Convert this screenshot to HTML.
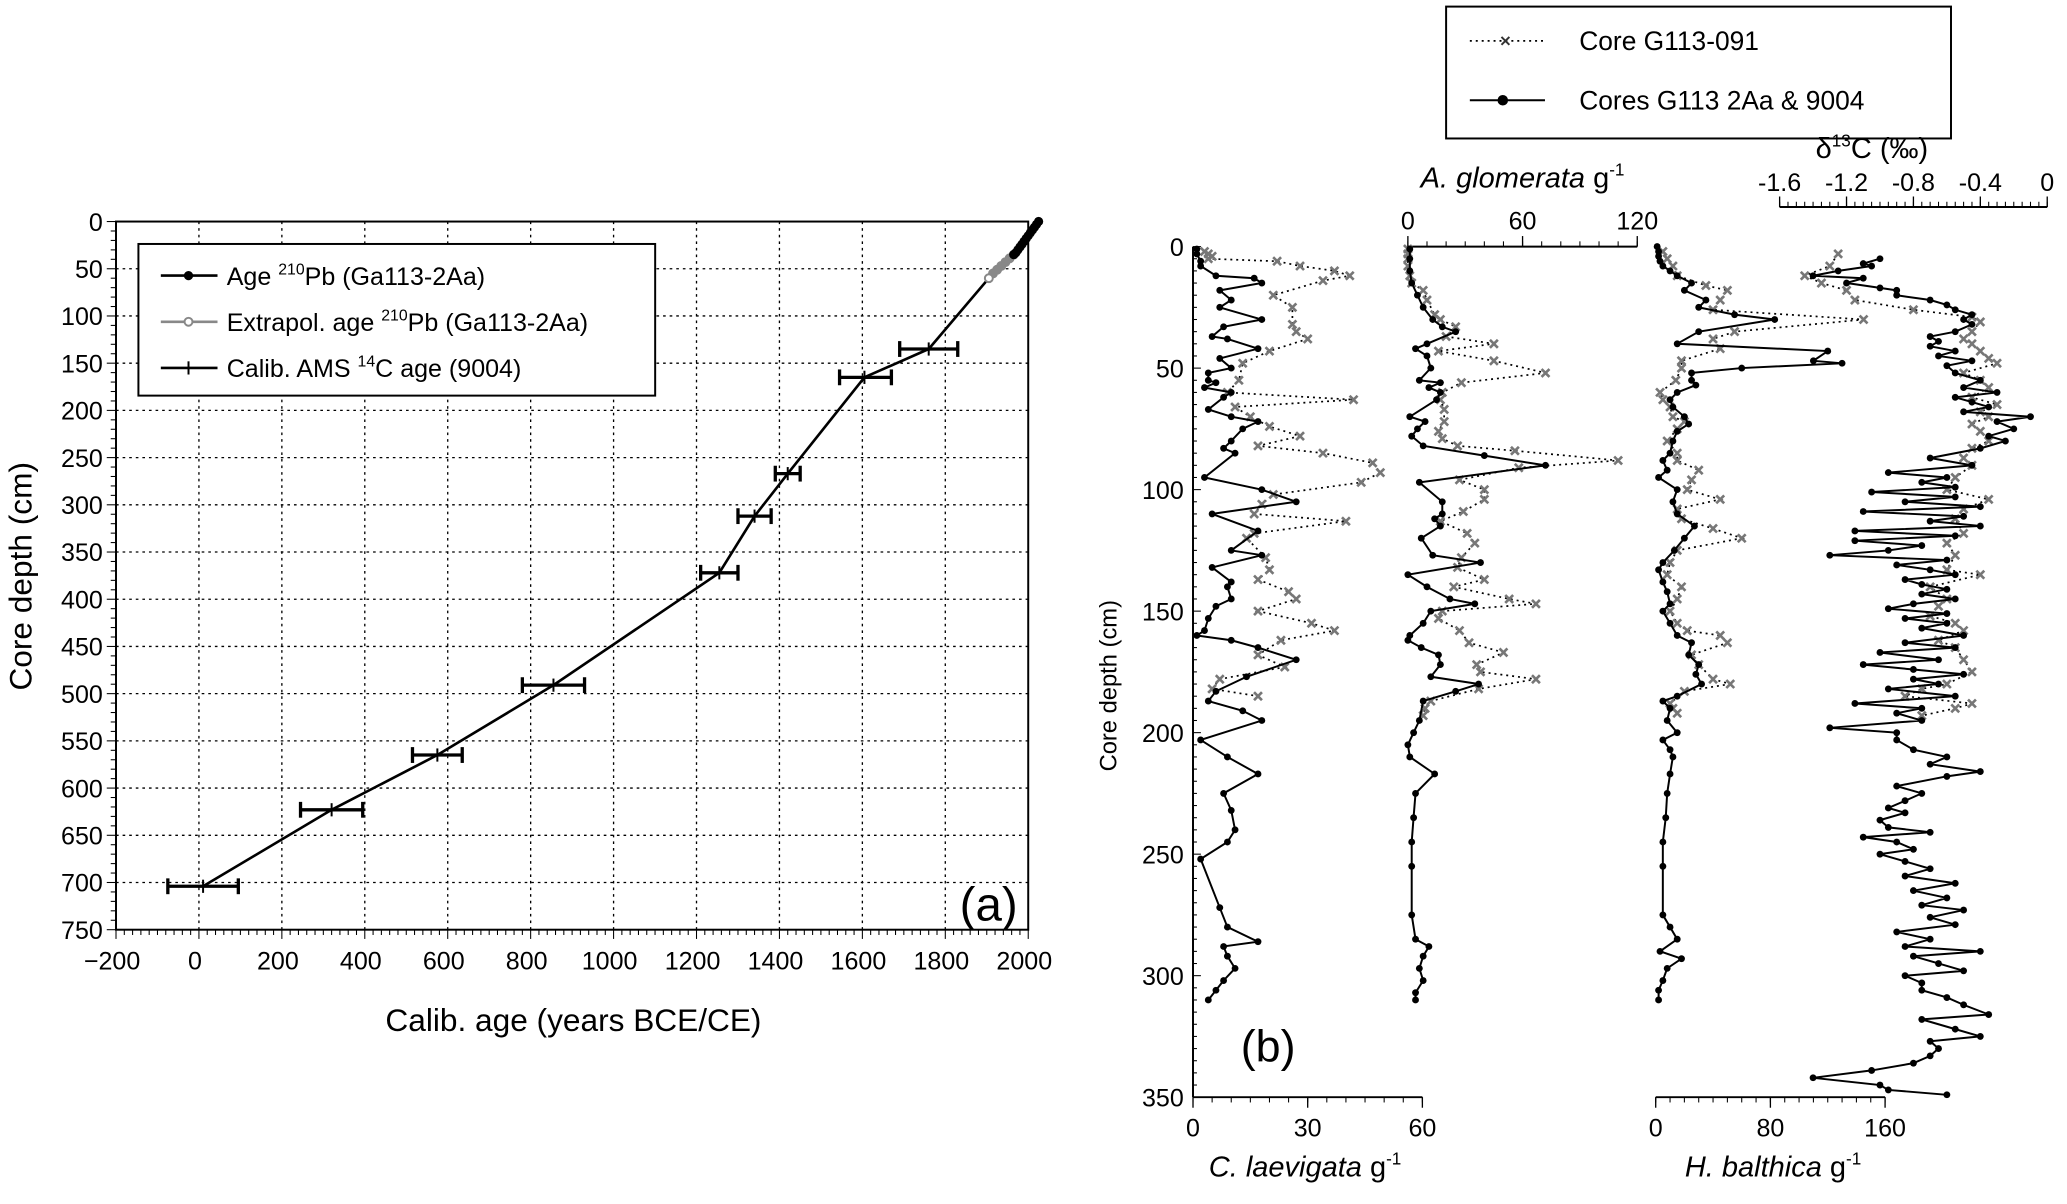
<!DOCTYPE html>
<html><head><meta charset="utf-8"><style>
html,body{margin:0;padding:0;background:#fff}
svg{display:block;font-family:"Liberation Sans",Arial,sans-serif}
</style></head><body>
<svg id="fig" width="2067" height="1204" viewBox="0 0 1568 913" preserveAspectRatio="none" xmlns="http://www.w3.org/2000/svg">
<rect x="0" y="0" width="1568" height="913" fill="#fff"/>
<g id="pa"></g>
<g id="pb"></g>
</svg>
<script>
// ---------- Panel (a) data ----------
const ageAms = [1760,1605,1420,1340,1255,855,575,320,10];
const depthAms = [135,165,267,312,372,491,565,623,704];
const errLo = [1690,1545,1390,1300,1210,780,515,245,-75];
const errHi = [1830,1670,1450,1380,1300,930,635,395,95];
const agePb = [2025,2020,2015,2010,2005,2000,1995,1990,1985,1980,1975,1970,1965];
const depthPb = [0,3,6,9,12,15,18,21,24,27,30,33,35];
const ageExt = [1965,1955,1945,1935,1925,1915,1905];
const depthExt = [35,39,43,47,51,55,60];
const xTicksA = [-200,0,200,400,600,800,1000,1200,1400,1600,1800,2000];
const yTicksA = [0,50,100,150,200,250,300,350,400,450,500,550,600,650,700,750];

// ---------- Panel (b) data ----------
const clD = [1,3,6,8,12,13,15,18,22,25,30,33,37,38,42,46,50,52,55,56,58,60,62,67,70,72,75,80,83,85,95,100,105,110,117,125,127,132,138,140,145,148,153,158,160,162,165,170,177,183,187,191,195,203,210,217,225,232,240,245,252,272,280,286,288,292,297,302,306,310];
const clV = [1,1,2,2,6,16,18,7,10,7,18,8,5,9,17,7,10,4,4,6,3,10,8,4,10,17,13,10,8,11,3,18,27,5,17,10,18,5,10,9,10,6,4,3,1,10,17,27,14,6,4,13,18,2,9,17,8,10,11,9,2,7,9,17,8,9,11,8,6,4];
const clGD = [2,3,4,5,6,8,10,12,14,20,25,32,35,38,43,48,55,60,63,66,70,74,78,82,85,89,93,97,102,106,110,113,118,120,128,133,137,142,145,150,155,158,162,168,173,178,182,185];
const clGV = [3,4,5,4,22,28,37,41,34,21,26,26,27,30,20,13,12,9,42,11,15,20,28,17,34,47,49,44,21,18,16,40,16,14,19,20,17,25,27,17,31,37,23,17,24,7,5,17];
const agD = [1,5,10,15,20,25,30,33,35,40,42,45,50,55,56,58,60,63,70,72,75,78,82,86,90,97,105,110,112,115,120,127,130,135,140,145,147,150,155,160,162,165,168,172,177,180,183,187,195,200,205,210,217,225,235,245,255,275,285,288,292,297,302,307,310];
const agV = [1,1,1,2,5,8,13,18,25,10,4,10,12,6,17,11,17,15,1,9,5,2,8,40,72,6,18,18,14,17,7,13,38,0,10,22,35,12,8,1,0,7,16,17,12,37,25,8,6,3,0,1,14,4,3,2,2,2,4,11,8,6,8,4,4];
const agGD = [1,3,5,8,12,15,18,22,28,30,33,37,40,43,47,52,56,60,63,67,72,76,79,82,84,88,91,96,100,104,109,113,118,122,128,132,137,140,145,147,150,153,158,163,167,172,175,178,182,187,190,193];
const agGV = [0,0,0,0,1,2,8,10,14,17,25,20,45,16,45,72,28,18,17,19,19,16,18,26,56,110,58,27,40,40,29,17,31,35,28,26,40,24,53,67,18,16,27,32,50,36,38,67,37,12,9,8];
const hbD = [0,2,4,6,8,10,12,15,18,22,25,28,30,35,40,43,47,48,50,52,55,57,60,63,66,70,73,76,80,85,88,92,95,100,105,110,115,120,125,130,133,138,142,147,150,155,160,163,168,172,176,180,185,187,190,195,200,203,207,210,217,225,235,245,255,275,280,285,290,293,297,302,306,310];
const hbV = [1,2,2,3,5,10,15,25,20,35,30,55,83,30,15,120,110,130,60,25,25,28,15,10,12,20,23,15,12,10,5,8,2,15,12,15,27,20,13,5,2,5,8,10,5,10,15,25,23,30,28,32,15,5,10,8,15,5,10,12,10,8,7,5,5,5,10,15,3,18,8,5,2,2];
const hbGD = [2,5,8,12,16,18,22,26,30,35,38,42,47,50,55,60,63,66,70,72,75,80,85,88,92,96,100,104,108,112,116,120,125,130,135,140,145,150,155,158,160,163,168,172,178,180,183,188,190,192];
const hbGV = [5,8,12,15,35,50,45,40,145,55,40,45,18,18,14,3,5,10,12,20,15,8,15,15,30,25,22,45,15,18,40,60,15,10,8,18,15,10,15,22,45,50,25,30,40,52,20,10,12,15];
const dcD = [5,7,8,10,12,13,15,17,18,20,22,24,26,28,30,32,35,37,39,41,43,45,47,49,52,55,58,60,62,64,66,68,70,72,75,78,80,83,87,90,93,95,97,99,101,103,105,107,109,111,113,115,117,119,121,123,125,127,129,131,133,135,137,139,141,143,145,147,149,151,153,155,157,160,163,165,167,170,172,174,176,178,180,182,185,188,190,192,195,198,200,203,207,210,213,216,218,222,225,228,231,233,236,239,241,243,245,248,250,253,256,259,262,265,268,271,273,276,279,282,285,288,290,292,295,298,300,303,306,309,312,316,318,322,325,327,330,333,336,339,342,345,347,349];
const dcV = [-1.0,-1.1,-1.05,-1.25,-1.4,-1.1,-1.2,-1.0,-0.9,-0.9,-0.7,-0.6,-0.55,-0.45,-0.5,-0.45,-0.55,-0.7,-0.65,-0.7,-0.55,-0.65,-0.45,-0.6,-0.55,-0.4,-0.5,-0.3,-0.55,-0.45,-0.35,-0.5,-0.1,-0.3,-0.2,-0.35,-0.25,-0.4,-0.7,-0.45,-0.95,-0.6,-0.75,-0.55,-1.05,-0.55,-0.85,-0.4,-1.1,-0.5,-0.7,-0.4,-1.15,-0.55,-1.15,-0.75,-0.95,-1.3,-0.6,-0.9,-0.7,-0.55,-0.85,-0.75,-0.6,-0.75,-0.55,-0.8,-0.95,-0.6,-0.85,-0.6,-0.75,-0.5,-0.85,-0.55,-1.0,-0.65,-1.1,-0.8,-0.5,-0.8,-0.65,-0.95,-0.55,-1.15,-0.75,-0.9,-0.75,-1.3,-0.9,-0.9,-0.8,-0.6,-0.7,-0.4,-0.6,-0.9,-0.75,-0.85,-0.95,-0.85,-1.0,-0.95,-0.7,-1.1,-0.9,-0.8,-1.0,-0.85,-0.7,-0.85,-0.55,-0.8,-0.6,-0.75,-0.5,-0.7,-0.55,-0.9,-0.7,-0.85,-0.4,-0.8,-0.65,-0.5,-0.85,-0.75,-0.75,-0.6,-0.5,-0.35,-0.75,-0.55,-0.4,-0.7,-0.65,-0.7,-0.8,-1.05,-1.4,-1.0,-0.95,-0.6];
const dcGD = [3,8,12,15,18,22,26,29,31,35,38,40,43,46,48,52,55,58,62,65,68,70,73,76,80,83,87,90,95,100,104,108,112,118,122,127,133,135,140,145,148,152,155,158,162,165,170,175,180,182,185,188,190,193];
const dcGV = [-1.25,-1.3,-1.45,-1.35,-1.2,-1.15,-0.8,-0.45,-0.4,-0.45,-0.5,-0.45,-0.4,-0.35,-0.3,-0.5,-0.4,-0.35,-0.45,-0.3,-0.4,-0.35,-0.45,-0.4,-0.35,-0.45,-0.5,-0.45,-0.55,-0.6,-0.35,-0.5,-0.55,-0.5,-0.6,-0.55,-0.6,-0.4,-0.7,-0.6,-0.65,-0.7,-0.55,-0.5,-0.65,-0.55,-0.5,-0.45,-0.6,-0.75,-0.85,-0.45,-0.55,-0.75];

const NS="http://www.w3.org/2000/svg";
function mk(parent,tag,attrs){const e=document.createElementNS(NS,tag);for(const k in attrs)e.setAttribute(k,attrs[k]);parent.appendChild(e);return e;}
function txt(parent,x,y,s,size,anchor,extra){const t=mk(parent,'text',Object.assign({x:x,y:y,'font-size':size,'text-anchor':anchor||'middle',fill:'#000'},extra||{}));t.textContent=s;return t;}

// ===== Panel A =====
const pa=document.getElementById('pa');
const AL=88,AR=780,AT=168,AB=705;
const ax=v=>AL+(v+200)/2200*(AR-AL);
const ay=d=>AT+d/750*(AB-AT);
xTicksA.forEach(v=>{ if(v>-200&&v<2000){const g=mk(pa,'line',{x1:ax(v),x2:ax(v),y1:AT,y2:AB,stroke:'#000','stroke-width':1,'stroke-dasharray':'2,3'});}});
yTicksA.forEach(v=>{ if(v>0&&v<750){const g=mk(pa,'line',{x1:AL,x2:AR,y1:ay(v),y2:ay(v),stroke:'#000','stroke-width':1,'stroke-dasharray':'2,3'});}});
const frameA=mk(pa,'rect',{x:AL,y:AT,width:AR-AL,height:AB-AT,fill:'none',stroke:'#000','stroke-width':1.5});


for(let v=-200;v<=2000;v+=20){mk(pa,'line',{x1:ax(v),x2:ax(v),y1:AB,y2:AB+(v%200===0?7:4),stroke:'#000','stroke-width':0.8});}
for(let d=0;d<=750;d+=10){mk(pa,'line',{x1:AL-(d%50===0?7:4),x2:AL,y1:ay(d),y2:ay(d),stroke:'#000','stroke-width':0.8});}
xTicksA.forEach(v=>{const t=txt(pa,ax(v)-3,AB+30,(v<0?'\u2212':'')+Math.abs(v),19);});
yTicksA.forEach(v=>{const t=txt(pa,AL-10,ay(v)+7,String(v),19,'end');});
const ytA=txt(pa,0,0,'Core depth (cm)',24,'middle',{transform:'translate(24,437) rotate(-90)'});


const xtA=txt(pa,435,782,'Calib. age (years BCE/CE)',24);


let pts=[[ageExt[ageExt.length-1],depthExt[depthExt.length-1]]];
ageAms.forEach((a,i)=>pts.push([a,depthAms[i]]));
const ml=mk(pa,'polyline',{points:pts.map(p=>ax(p[0])+','+ay(p[1])).join(' '),fill:'none',stroke:'#000','stroke-width':2});


ageAms.forEach((a,i)=>{const y=ay(depthAms[i]);const g=mk(pa,'g',{});


mk(g,'line',{x1:ax(errLo[i]),x2:ax(errHi[i]),y1:y,y2:y,stroke:'#000','stroke-width':2.5});
mk(g,'line',{x1:ax(errLo[i]),x2:ax(errLo[i]),y1:y-6,y2:y+6,stroke:'#000','stroke-width':2.5});
mk(g,'line',{x1:ax(errHi[i]),x2:ax(errHi[i]),y1:y-6,y2:y+6,stroke:'#000','stroke-width':2.5});
mk(g,'line',{x1:ax(a),x2:ax(a),y1:y-5,y2:y+5,stroke:'#000','stroke-width':1.5});});
const ext=mk(pa,'polyline',{points:ageExt.map((a,i)=>ax(a)+','+ay(depthExt[i])).join(' '),fill:'none',stroke:'#888','stroke-width':4});


ageExt.forEach((a,i)=>{const c=mk(pa,'circle',{cx:ax(a),cy:ay(depthExt[i]),r:3,fill:i===ageExt.length-1?'#fff':'#888',stroke:'#888','stroke-width':1.5});});
const pbl=mk(pa,'polyline',{points:agePb.map((a,i)=>ax(a)+','+ay(depthPb[i])).join(' '),fill:'none',stroke:'#000','stroke-width':4});


agePb.forEach((a,i)=>{const c=mk(pa,'circle',{cx:ax(a),cy:ay(depthPb[i]),r:3.5,fill:'#000'});});
const lgA=mk(pa,'g',{});


mk(lgA,'rect',{x:105,y:185,width:392,height:115,fill:'#fff',stroke:'#000','stroke-width':1.5});
mk(lgA,'line',{x1:122,x2:165,y1:209,y2:209,stroke:'#000','stroke-width':2});mk(lgA,'circle',{cx:143,cy:209,r:3.5,fill:'#000'});
const la1=txt(lgA,172,216,'',19,'start');la1.innerHTML='Age <tspan font-size="12" dy="-8">210</tspan><tspan dy="8">Pb (Ga113-2Aa)</tspan>';


mk(lgA,'line',{x1:122,x2:165,y1:244,y2:244,stroke:'#888','stroke-width':2});mk(lgA,'circle',{cx:143,cy:244,r:3,fill:'#fff',stroke:'#888','stroke-width':1.5});
const la2=txt(lgA,172,251,'',19,'start');la2.innerHTML='Extrapol. age <tspan font-size="12" dy="-8">210</tspan><tspan dy="8">Pb (Ga113-2Aa)</tspan>';


mk(lgA,'line',{x1:122,x2:165,y1:279,y2:279,stroke:'#000','stroke-width':2});mk(lgA,'line',{x1:143,x2:143,y1:274,y2:284,stroke:'#000','stroke-width':1.5});
const la3=txt(lgA,172,286,'',19,'start');la3.innerHTML='Calib. AMS <tspan font-size="12" dy="-8">14</tspan><tspan dy="8">C age (9004)</tspan>';


const lblA=txt(pa,750,698,'(a)',36);



// ===== Panel B =====
const pb=document.getElementById('pb');
const BT=187,BB=832;
const by=d=>BT+d/350*(BB-BT);
const clx=v=>905+v*(1079-905)/60;
const agx=v=>1068+v*(1242-1068)/120;
const hbx=v=>1256+v*(1430-1256)/160;
const dcx=v=>1553+v*(1553-1350)/1.6;

// legend b (drawn first so titles stay on top)
const lgB=mk(pb,'g',{});


mk(lgB,'rect',{x:1097,y:5,width:383,height:100,fill:'#fff',stroke:'#000','stroke-width':1.5});
mk(lgB,'line',{x1:1115,x2:1172,y1:31,y2:31,stroke:'#000','stroke-width':1.3,'stroke-dasharray':'1.5,3'});
mk(lgB,'path',{d:'M1139,28L1145,34M1139,34L1145,28',stroke:'#333','stroke-width':1.5});
const lb1=txt(lgB,1198,38,'Core G113-091',20,'start');


mk(lgB,'line',{x1:1115,x2:1172,y1:76,y2:76,stroke:'#000','stroke-width':1.5});
mk(lgB,'circle',{cx:1140,cy:76,r:4,fill:'#000'});
const lb2=txt(lgB,1198,83,'Cores G113 2Aa & 9004',20,'start');



const dAx=mk(pb,'line',{x1:905,x2:905,y1:BT,y2:BB,stroke:'#000','stroke-width':1.5});


for(let d=0;d<=350;d+=5){mk(pb,'line',{x1:905,x2:905+(d%50===0?6:3),y1:by(d),y2:by(d),stroke:'#000','stroke-width':0.8});}
[0,50,100,150,200,250,300,350].forEach(d=>{const t=txt(pb,898,by(d)+7,String(d),19,'end');});
const ytB=txt(pb,0,0,'Core depth (cm)',18,'middle',{transform:'translate(847,520) rotate(-90)'});


function hAxis(name,y,x0,x1,ticks,fx,minor,labelY,down){
 const g=mk(pb,'g',{});
 
 
 mk(g,'line',{x1:x0,x2:x1,y1:y,y2:y,stroke:'#000','stroke-width':1.5});
 minor.forEach(v=>{mk(g,'line',{x1:fx(v),x2:fx(v),y1:y,y2:y+(down?4:-4),stroke:'#000','stroke-width':0.8});});
 ticks.forEach(v=>{mk(g,'line',{x1:fx(v),x2:fx(v),y1:y,y2:y+(down?8:-8),stroke:'#000','stroke-width':1});const t=txt(g,fx(v),labelY,String(v),19);});
}
const rng=(a,b,s)=>{const r=[];for(let v=a;v<=b+1e-9;v+=s)r.push(Math.round(v*100)/100);return r;};
hAxis('x-axis-c-laevigata',BB,905,1079,[0,30,60],clx,rng(0,60,5),BB+30,true);
hAxis('x-axis-a-glomerata',BT,1068,1242,[0,60,120],agx,rng(0,120,10),BT-13,false);
hAxis('x-axis-h-balthica',BB,1256,1430,[0,80,160],hbx,rng(0,160,10),BB+30,true);
hAxis('x-axis-d13c',157,1350,1553,[-1.6,-1.2,-0.8,-0.4,0],dcx,rng(-1.6,0,0.05),145,false);
const t1=txt(pb,990,892,'',22);t1.innerHTML='<tspan font-style="italic">C. laevigata</tspan> g<tspan font-size="13" dy="-9">-1</tspan>';


const t2=txt(pb,1155,142,'',22);t2.innerHTML='<tspan font-style="italic">A. glomerata</tspan> g<tspan font-size="13" dy="-9">-1</tspan>';


const t3=txt(pb,1345,892,'',22);t3.innerHTML='<tspan font-style="italic">H. balthica</tspan> g<tspan font-size="13" dy="-9">-1</tspan>';


const t4=txt(pb,1420,120,'',22);t4.innerHTML='δ<tspan font-size="13" dy="-9">13</tspan><tspan dy="9">C (‰)</tspan>';


const lblB=txt(pb,962,805,'(b)',34);



function series(name,D,V,fx,grey){
 const g=mk(pb,'g',{});
 
 
 const p=D.map((d,i)=>fx(V[i]).toFixed(1)+','+by(d).toFixed(1)).join(' ');
 mk(g,'polyline',{points:p,fill:'none',stroke:'#000','stroke-width':grey?1.3:1.5,'stroke-dasharray':grey?'1.5,3':'none'});
 D.forEach((d,i)=>{const x=fx(V[i]),y=by(d);
  if(grey){mk(g,'path',{d:`M${x-3},${y-3}L${x+3},${y+3}M${x-3},${y+3}L${x+3},${y-3}`,stroke:'#777','stroke-width':2});}
  else{mk(g,'circle',{cx:x,cy:y,r:2.6,fill:'#000'});}
 });
}
series('c-laevigata-g113-091',clGD,clGV,clx,true);
series('c-laevigata-2aa-9004',clD,clV,clx,false);
series('a-glomerata-g113-091',agGD,agGV,agx,true);
series('a-glomerata-2aa-9004',agD,agV,agx,false);
series('h-balthica-g113-091',hbGD,hbGV,hbx,true);
series('h-balthica-2aa-9004',hbD,hbV,hbx,false);
series('d13c-g113-091',dcGD,dcGV,dcx,true);
series('d13c-2aa-9004',dcD,dcV,dcx,false);
</script>
</body></html>
